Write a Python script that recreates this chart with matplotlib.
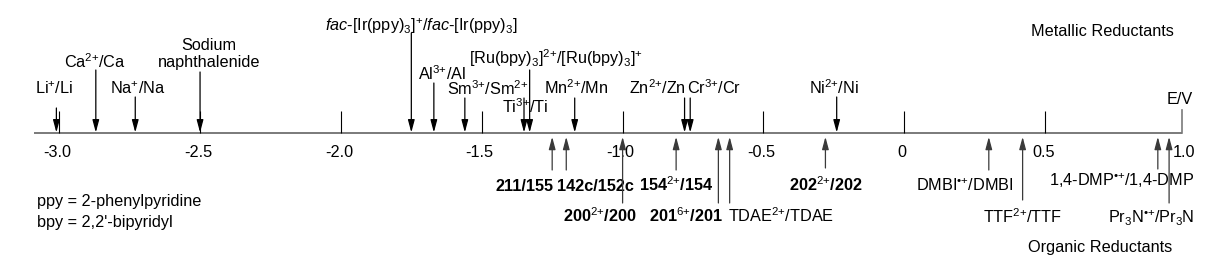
import matplotlib
matplotlib.use("Agg")
import matplotlib.pyplot as plt

plt.rcParams['font.family'] = ['Liberation Sans', 'DejaVu Sans']
plt.rcParams['mathtext.fontset'] = 'custom'
plt.rcParams['mathtext.rm'] = 'Liberation Sans'
plt.rcParams['mathtext.it'] = 'Liberation Sans:italic'
plt.rcParams['mathtext.bf'] = 'Liberation Sans:bold'

# reduction potentials (V)
metal_labels = ['Li$^{+}$/Li', 'Ca$^{2{+}}$/Ca', 'Na$^{+}$/Na', 'Sodium\nnaphthalenide',
                r'$\mathit{fac}$-[Ir(ppy)$_3$]$^{+}$/$\mathit{fac}$-[Ir(ppy)$_3$]',
                'Al$^{3{+}}$/Al', 'Sm$^{3{+}}$/Sm$^{2{+}}$', 'Ti$^{3{+}}$/Ti',
                '[Ru(bpy)$_3$]$^{2{+}}$/[Ru(bpy)$_3$]$^{+}$', 'Mn$^{2{+}}$/Mn',
                'Zn$^{2{+}}$/Zn', 'Cr$^{3{+}}$/Cr', 'Ni$^{2{+}}$/Ni']
metal_E = [-3.01, -2.87, -2.73, -2.50, -1.75, -1.67, -1.56, -1.35, -1.33, -1.17, -0.78, -0.76, -0.24]

organic_labels = ['211/155', '142c/152c', '200$^{2{+}}$/200', '154$^{2{+}}$/154', '201$^{6{+}}$/201',
                  'TDAE$^{2{+}}$/TDAE', '202$^{2{+}}$/202', 'DMBI$^{•{+}}$/DMBI',
                  'TTF$^{2{+}}$/TTF', '1,4-DMP$^{•{+}}$/1,4-DMP', 'Pr$_3$N$^{•{+}}$/Pr$_3$N']
organic_E = [-1.25, -1.20, -1.00, -0.81, -0.66, -0.62, -0.28, 0.30, 0.42, 0.90, 0.94]
organic_bold = [True, True, True, True, True, False, True, False, False, False, False]

tick_values = [-3.0, -2.5, -2.0, -1.5, -1.0, -0.5, 0.0, 0.5, 1.0]
tick_labels = ['-3.0', '-2.5', '-2.0', '-1.5', '-1.0', '-0.5', '0', '0.5', '1.0']

# layout (pixel units, y downward)
scale = 281.7          # px per volt
x0 = 904.3             # px of 0 V
axis_y = 133.3
metal_tail = [108, 70, 97, 72, 33, 83, 98, 98, 70, 98, 98, 98, 97]
metal_text_y = [94.3, 67.7, 94.3, 66.7, 31, 80, 95, 112.7, 64, 94, 94, 94, 93.5]
metal_dx = [-2, -1, 2, 9, 10, 8, 23, 1, 26, 1, -27, 24, -3]
organic_tail = [170, 170, 203, 170, 203, 203, 168, 170, 200, 169, 203]
organic_text_y = [191, 191, 221.7, 191, 221.7, 221.7, 191, 191, 223, 186, 223]
organic_dx = [-28, 29, -23, 0, -32, 51, 0, -24, 0, -36, -18]

fs = 11.7
fig = plt.figure(figsize=(12.22, 2.76), dpi=100)
ax = fig.add_axes([0, 0, 1, 1])
ax.set_xlim(-x0 / scale, (1222 - x0) / scale)
ax.set_ylim(276, 0)
ax.axis('off')

px = 1 / scale
x_end = 0.986

# axis line and ticks
ax.plot([-3.09, x_end], [axis_y, axis_y], color='#7a7a7a', lw=1.4, solid_capstyle='butt', zorder=1)
ax.plot([x_end, x_end], [axis_y, 110], color='#7a7a7a', lw=1.2, zorder=1)
ax.vlines(tick_values[:-1], 111, axis_y, color='black', lw=0.8, zorder=1)
for v, t in zip(tick_values, tick_labels):
    ax.text(v - 2 * px, 157, t, ha='center', va='baseline', fontsize=fs)
ax.text(x_end - 2 * px, 104, 'E/V', ha='center', va='baseline', fontsize=fs)

head = '-|>,head_length=0.75,head_width=0.2'
for lab, e, ty, yy, dx in zip(metal_labels, metal_E, metal_tail, metal_text_y, metal_dx):
    ax.annotate('', xy=(e, axis_y - 0.8), xytext=(e, ty),
                arrowprops=dict(arrowstyle=head, color='black', lw=0.9,
                                shrinkA=0, shrinkB=0, mutation_scale=10))
    if '\n' in lab:
        top, bot = lab.split('\n')
        ax.text(e + dx * px, yy - 16.7, top, ha='center', va='baseline', fontsize=fs)
        ax.text(e + dx * px, yy, bot, ha='center', va='baseline', fontsize=fs)
    else:
        ax.text(e + dx * px, yy, lab, ha='center', va='baseline', fontsize=fs)

for lab, e, ty, yy, dx, b in zip(organic_labels, organic_E, organic_tail, organic_text_y,
                                 organic_dx, organic_bold):
    ax.annotate('', xy=(e, axis_y + 3.5), xytext=(e, ty),
                arrowprops=dict(arrowstyle=head, color='#3a3a3a', lw=0.9,
                                shrinkA=0, shrinkB=0, mutation_scale=10))
    ax.text(e + dx * px, yy, lab, ha='center', va='baseline', fontsize=fs,
            fontweight='bold' if b else 'normal')

ax.text(1102 * px - x0 * px, 36.5, 'Metallic Reductants', ha='center', va='baseline', fontsize=fs)
ax.text(1100 * px - x0 * px, 251.7, 'Organic Reductants', ha='center', va='baseline', fontsize=fs)
ax.text(37 * px - x0 * px, 206, 'ppy = 2-phenylpyridine', ha='left', va='baseline', fontsize=fs)
ax.text(37 * px - x0 * px, 226.7, "bpy = 2,2'-bipyridyl", ha='left', va='baseline', fontsize=fs)

fig.savefig('out.png', dpi=100, facecolor='white')
